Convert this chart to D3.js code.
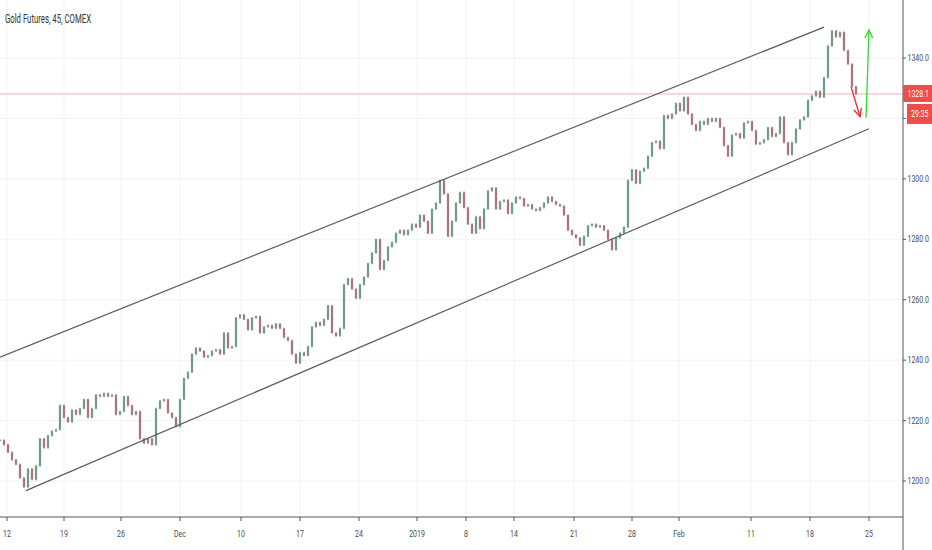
<!DOCTYPE html>
<html>
<head>
<meta charset="utf-8">
<script src="https://cdn.jsdelivr.net/npm/d3@7"></script>
<style>
  body { margin: 0; background: #fff; }
  text { font-family: "Roboto", "Liberation Sans", sans-serif; }
</style>
</head>
<body>
<div id="chart"></div>
<script>
var svgWidth = 932;
var svgHeight = 550;

// plot area ends where the price scale starts
var plotRight = 903;
var plotBottom = 517;

// closes of each bar (open = previous close)
var closes = [
  1213.5, 1212, 1209.5, 1207, 1205.5, 1201, 1198, 1204, 1200.5, 1205,
  1214, 1211, 1215, 1216.5, 1217, 1225, 1221, 1219.5, 1223.5, 1222,
  1224, 1227, 1221, 1224, 1228.5, 1228, 1229, 1228, 1228.5, 1222,
  1223, 1228, 1225, 1222, 1223, 1214, 1212.5, 1214, 1212, 1224,
  1226.5, 1227, 1222.5, 1221, 1218, 1227, 1234, 1236, 1242, 1244,
  1243, 1241, 1241.5, 1243, 1243.5, 1242, 1249, 1244, 1244.5, 1254,
  1255, 1253.5, 1250, 1254, 1254.5, 1249, 1251, 1251.5, 1250.5, 1252,
  1250.5, 1247.5, 1246.5, 1242, 1239, 1242.5, 1241.5, 1244.5, 1251, 1252.5,
  1251.5, 1253.5, 1258, 1249, 1248, 1250.5, 1265, 1267, 1263.5, 1260.5,
  1265, 1267.5, 1272, 1275.5, 1280, 1270, 1273, 1277.5, 1279, 1282,
  1283, 1281.5, 1283, 1285, 1284, 1288, 1286, 1282, 1290, 1292,
  1299.5, 1295, 1281, 1286, 1292, 1295.5, 1290.5, 1285, 1282, 1287.5,
  1283.5, 1290, 1296, 1297, 1290, 1292.5, 1293, 1288.5, 1292, 1294,
  1293.5, 1291, 1291.5, 1290, 1289.5, 1290.5, 1292, 1294, 1292.5, 1291.5,
  1291, 1288, 1283, 1281.5, 1280.5, 1278, 1281, 1284.5, 1285, 1284,
  1284.5, 1283, 1280, 1276.5, 1280.5, 1282, 1284, 1299.5, 1303, 1298.5,
  1302.5, 1303.5, 1307.5, 1312, 1312.5, 1310, 1321, 1320, 1321.5, 1325,
  1322.5, 1327, 1321.5, 1318, 1316, 1319, 1318, 1320, 1319, 1320,
  1317, 1311, 1307.5, 1314.5, 1315, 1313.5, 1318.5, 1319, 1316, 1311.5,
  1312, 1313, 1317, 1314, 1315, 1320.5, 1312, 1308, 1312, 1316.5,
  1319.5, 1320.5, 1326, 1327.5, 1329, 1327, 1333.5, 1344, 1349, 1347,
  1348.5, 1342.5, 1338, 1330.5, 1328.1
];

// date labels and the bar slot where each falls
var dateLabels = ["12", "19", "26", "Dec", "10", "17", "24", "2019", "8", "14", "21", "28", "Feb", "11", "18", "25"];
var dateSlots = [1.75, 16, 30.25, 45, 60.25, 75, 89.75, 104.25, 116.5, 128.5, 143.5, 158, 169.75, 187.75, 202.5, 217.25];

var priceTicks = [1200, 1220, 1240, 1260, 1280, 1300, 1320, 1340];

var lastPrice = 1328.1;
var countdown = "29:35";

// trend channel drawn by hand: [slot, price]
var upperLine = [[0, 1241], [206, 1350.2]];
var lowerLine = [[6.5, 1196.8], [217.25, 1316.6]];

// projection arrows
var downArrow = [[212.75, 1330.5], [215, 1320.6]];
var upArrow = [[216.5, 1320.2], [217.25, 1349.3]];

var svg = d3.select("#chart")
  .append("svg")
  .attr("width", svgWidth)
  .attr("height", svgHeight);

var x = d3.scaleLinear().domain([0, 225.75]).range([0, plotRight]);
var y = d3.scaleLinear().domain([1200, 1340]).range([481, 58]);

// grid
var grid = svg.append("g");
grid.selectAll(".hgrid")
  .data(priceTicks)
  .enter()
  .append("line")
  .attr("x1", 0).attr("x2", plotRight)
  .attr("y1", d => y(d)).attr("y2", d => y(d))
  .attr("stroke", "#f1f3f6");
grid.selectAll(".vgrid")
  .data(dateSlots)
  .enter()
  .append("line")
  .attr("x1", d => x(d)).attr("x2", d => x(d))
  .attr("y1", 0).attr("y2", plotBottom)
  .attr("stroke", "#f1f3f6");

// last price line
svg.append("line")
  .attr("x1", 0).attr("x2", plotRight)
  .attr("y1", y(lastPrice)).attr("y2", y(lastPrice))
  .attr("stroke", "#f7b3b3")
  .attr("stroke-width", 1);

// candles
var bars = closes.map((c, i) => ({ i: i, open: i ? closes[i - 1] : c, close: c }));
var candles = svg.append("g");
candles.selectAll("rect")
  .data(bars)
  .enter()
  .append("rect")
  .attr("x", d => x(d.i) - 1.2)
  .attr("width", 2.4)
  .attr("y", d => y(Math.max(d.open, d.close)))
  .attr("height", d => Math.max(1, Math.abs(y(d.open) - y(d.close))))
  .attr("fill", d => d.close >= d.open ? "#8fcfb4" : "#e7949b");
candles.selectAll("line")
  .data(bars)
  .enter()
  .append("line")
  .attr("x1", d => x(d.i)).attr("x2", d => x(d.i))
  .attr("y1", d => y(Math.max(d.open, d.close)) - 0.8)
  .attr("y2", d => y(Math.min(d.open, d.close)) + 0.8)
  .attr("stroke", "#555")
  .attr("stroke-width", 0.9);

// channel
var seg = d3.line().x(d => x(d[0])).y(d => y(d[1]));
[upperLine, lowerLine].forEach(l => {
  svg.append("path")
    .attr("d", seg(l))
    .attr("fill", "none")
    .attr("stroke", "#5b5b5b")
    .attr("stroke-width", 1.2);
});

// arrows
function arrow(pts, color) {
  var x1 = x(pts[0][0]), y1 = y(pts[0][1]);
  var x2 = x(pts[1][0]), y2 = y(pts[1][1]);
  var a = Math.atan2(y2 - y1, x2 - x1);
  var h = 9;
  svg.append("line")
    .attr("x1", x1).attr("y1", y1).attr("x2", x2).attr("y2", y2)
    .attr("stroke", color).attr("stroke-width", 1.3);
  svg.append("path")
    .attr("d", "M" + (x2 - h * Math.cos(a - 0.45)) + "," + (y2 - h * Math.sin(a - 0.45)) +
      "L" + x2 + "," + y2 +
      "L" + (x2 - h * Math.cos(a + 0.45)) + "," + (y2 - h * Math.sin(a + 0.45)))
    .attr("fill", "none").attr("stroke", color).attr("stroke-width", 1.3);
}
arrow(downArrow, "#f0282d");
arrow(upArrow, "#38d438");

// x axis
svg.append("rect")
  .attr("x", 0).attr("y", plotBottom)
  .attr("width", plotRight).attr("height", svgHeight - plotBottom)
  .attr("fill", "#fff");
svg.append("line")
  .attr("x1", 0).attr("x2", plotRight)
  .attr("y1", plotBottom).attr("y2", plotBottom)
  .attr("stroke", "#555");
var xAxis = svg.append("g");
xAxis.selectAll("line")
  .data(dateSlots)
  .enter()
  .append("line")
  .attr("x1", d => x(d)).attr("x2", d => x(d))
  .attr("y1", plotBottom).attr("y2", plotBottom + 4)
  .attr("stroke", "#555");
xAxis.selectAll("text")
  .data(dateLabels)
  .enter()
  .append("text")
  .attr("transform", (d, i) => `translate(${x(dateSlots[i])}, ${plotBottom + 20}) scale(0.82, 1)`)
  .attr("text-anchor", "middle")
  .attr("font-size", 8.5)
  .attr("fill", "#4a4a4a")
  .text(d => d);

// price axis
svg.append("line")
  .attr("x1", plotRight).attr("x2", plotRight)
  .attr("y1", 0).attr("y2", svgHeight)
  .attr("stroke", "#555");
var yAxis = svg.append("g");
yAxis.selectAll("line")
  .data(priceTicks)
  .enter()
  .append("line")
  .attr("x1", plotRight).attr("x2", plotRight + 3)
  .attr("y1", d => y(d)).attr("y2", d => y(d))
  .attr("stroke", "#555");
// labels that would sit under the price / countdown tags are hidden
var tagTop = y(lastPrice) - 9, tagBottom = y(lastPrice) + 31;
yAxis.selectAll("text")
  .data(priceTicks.filter(d => y(d) < tagTop - 4 || y(d) > tagBottom + 4))
  .enter()
  .append("text")
  .attr("transform", d => `translate(${plotRight + 4.5}, ${y(d) + 3}) scale(0.82, 1)`)
  .attr("font-size", 8.5)
  .attr("fill", "#4a4a4a")
  .text(d => d.toFixed(1));

// last price tag and countdown
svg.append("rect")
  .attr("x", plotRight).attr("y", y(lastPrice) - 9)
  .attr("width", svgWidth - plotRight).attr("height", 17)
  .attr("fill", "#ef4c4c");
svg.append("text")
  .attr("transform", `translate(${plotRight + 4.5}, ${y(lastPrice) + 3}) scale(0.82, 1)`)
  .attr("font-size", 8.5)
  .attr("fill", "#fff")
  .text(lastPrice.toFixed(1));
svg.append("rect")
  .attr("x", plotRight + 4).attr("y", y(lastPrice) + 10)
  .attr("width", svgWidth - plotRight - 4).attr("height", 20)
  .attr("fill", "#ef4c4c");
svg.append("text")
  .attr("transform", `translate(${plotRight + 8}, ${y(lastPrice) + 23}) scale(0.82, 1)`)
  .attr("font-size", 8.5)
  .attr("fill", "#fff")
  .text(countdown);

// title
svg.append("text")
  .attr("x", 5).attr("y", 23)
  .attr("font-size", 13)
  .attr("fill", "#333")
  .attr("textLength", 86)
  .attr("lengthAdjust", "spacingAndGlyphs")
  .text("Gold Futures, 45, COMEX");
</script>
</body>
</html>
